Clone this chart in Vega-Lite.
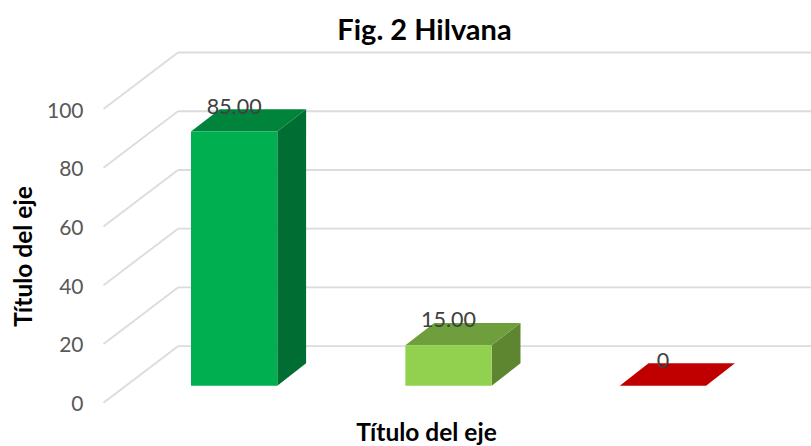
{
"$schema":"https://vega.github.io/schema/vega-lite/v6.json",
"width":811,"height":396,"padding":{"top":50,"left":0,"right":0,"bottom":0},"autosize":"none","background":"white",
"title":{"text":"Fig. 2 Hilvana","font":"Lato","fontSize":29,"fontWeight":"bold","color":"#000000","anchor":"middle","offset":-10,"baseline":"middle","dx":19},
"config":{"view":{"stroke":null}},
"datasets":{
"bars":[{"cat":"Verde","pos":1,"value":85,"label":"85.00","base":5.8,"top":92.3},{"cat":"Lima","pos":2,"value":15,"label":"15.00","base":5.8,"top":19.55},{"cat":"Rojo","pos":3,"value":0,"label":"0","base":5.8,"top":5.8}],
"grid":[{"tick":0},{"tick":20},{"tick":40},{"tick":60},{"tick":80},{"tick":100}]
},
"layer":[
{"data":{"name":"grid"},"transform":[{"calculate":"0.3906","as":"xf"},{"calculate":"0.7381","as":"xb"},{"calculate":"datum.tick+19.24","as":"tb"}],
"mark":{"type":"rule","color":"#dcdcdc","strokeWidth":1.8},
"encoding":{
"x":{"field":"xf","type":"quantitative","scale":{"domain":[-0.0921,3.6906],"nice":false,"zero":false},
"axis":{"values":[],"labels":false,"ticks":false,"domain":false,"grid":false,"title":"Título del eje","titleFont":"Lato","titleFontSize":24.5,"titleFontWeight":"bold","titleColor":"#000000","titleX":426,"titleY":-13,"titleBaseline":"middle","titleAlign":"center"}},
"x2":{"field":"xb"},
"y":{"field":"tick","type":"quantitative","scale":{"domain":[-14.74,120.09],"nice":false,"zero":false},
"axis":{"orient":"left","offset":-88,"values":[0,20,40,60,80,100],"domain":false,"ticks":false,"grid":false,"labelPadding":5,"labelFont":"Lato","labelFontSize":21,"labelColor":"#595959","labelOffset":2,"labelOverlap":false,"labelBound":false,"title":"Título del eje","titleFont":"Lato","titleFontSize":24.5,"titleFontWeight":"bold","titleColor":"#000000","titleX":-64,"titleY":206,"titleAngle":270,"titleBaseline":"middle","titleAlign":"center"}},
"y2":{"field":"tb"}}},
{"data":{"name":"grid"},"transform":[{"calculate":"0.7381","as":"xb"},{"calculate":"3.6906","as":"xe"},{"calculate":"datum.tick+19.24","as":"tb"}],
"mark":{"type":"rule","color":"#dcdcdc","strokeWidth":1.8},
"encoding":{"x":{"field":"xb","type":"quantitative"},"x2":{"field":"xe"},"y":{"field":"tb","type":"quantitative"}}},
{"data":{"name":"bars"},"transform":[{"calculate":"[0,1]","as":"d"},{"flatten":["d"]},{"calculate":"datum.pos+0.2013+datum.d*0.1343","as":"xs"},{"calculate":"datum.base+datum.d*7.6","as":"y0"},{"calculate":"datum.top+datum.d*7.6","as":"y1"}],
"mark":{"type":"area","orient":"vertical","interpolate":"linear"},
"encoding":{"x":{"field":"xs","type":"quantitative"},"y":{"field":"y0","type":"quantitative"},"y2":{"field":"y1"},"detail":{"field":"cat"},
"color":{"field":"cat","type":"nominal","legend":null,"scale":{"domain":["Verde","Lima","Rojo"],"range":["#006d32","#5e8530","#c00000"]}}}},
{"data":{"name":"bars"},"transform":[{"calculate":"[0,1]","as":"d"},{"flatten":["d"]},{"calculate":"datum.pos-0.2013+datum.d*0.1343","as":"x0"},{"calculate":"datum.pos+0.2013+datum.d*0.1343","as":"x1"},{"calculate":"datum.top+datum.d*7.6","as":"y1"}],
"mark":{"type":"area","orient":"horizontal","interpolate":"linear"},
"encoding":{"x":{"field":"x0","type":"quantitative"},"x2":{"field":"x1"},"y":{"field":"y1","type":"quantitative"},"detail":{"field":"cat"},
"color":{"field":"cat","type":"nominal","legend":null,"scale":{"domain":["Verde","Lima","Rojo"],"range":["#00843c","#6f9e3c","#c00000"]}}}},
{"data":{"name":"bars"},"transform":[{"calculate":"datum.pos-0.2013","as":"x0"},{"calculate":"datum.pos+0.2013","as":"x1"}],
"mark":{"type":"rect"},
"encoding":{"x":{"field":"x0","type":"quantitative"},"x2":{"field":"x1"},"y":{"field":"base","type":"quantitative"},"y2":{"field":"top"},
"color":{"field":"cat","type":"nominal","legend":null,"scale":{"domain":["Verde","Lima","Rojo"],"range":["#00b050","#92d050","#c00000"]}}}},
{"data":{"name":"bars"},"transform":[{"calculate":"datum.top+8.2","as":"ly"}],
"mark":{"type":"text","font":"Lato","fontSize":21.5,"color":"#404040","baseline":"middle","align":"center"},
"encoding":{"x":{"field":"pos","type":"quantitative"},"y":{"field":"ly","type":"quantitative"},"text":{"field":"label"}}}
],
"resolve":{"scale":{"color":"independent"}}
}
